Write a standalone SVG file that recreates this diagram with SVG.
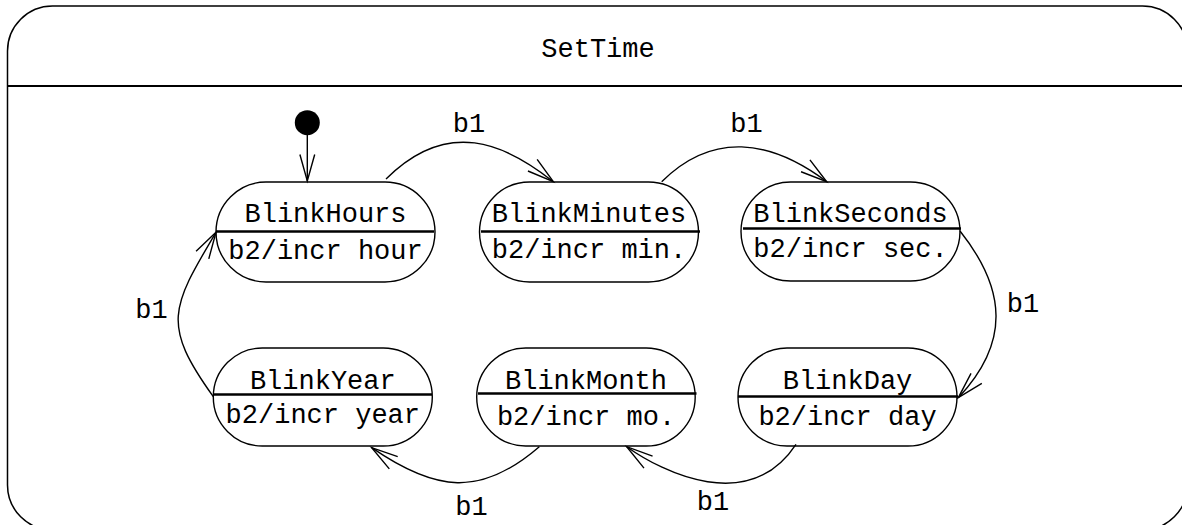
<svg xmlns="http://www.w3.org/2000/svg" width="1182" height="525" viewBox="0 0 1182 525">
  <style>
    text { font-family: "Liberation Mono", "Courier New", monospace; font-size: 27px; fill: #000; text-anchor: middle; }
    .frame { fill: #fff; stroke: #000; stroke-width: 1.5; }
    .header { stroke: #000; stroke-width: 2.2; }
    .state { fill: #fff; stroke: #000; stroke-width: 1.4; }
    .divider { stroke: #000; stroke-width: 2.5; }
    .edge { fill: none; stroke: #000; stroke-width: 1.4; marker-end: url(#open); }
  </style>
  <defs>
    <marker id="open" markerUnits="userSpaceOnUse" viewBox="-30 -10 32 20" markerWidth="32" markerHeight="20" refX="0" refY="0" orient="auto" overflow="visible">
      <path d="M-26.5,-7.4 L0,0 L-26.5,7.4" fill="none" stroke="#000" stroke-width="1.4"/>
    </marker>
  </defs>

  <!-- composite state -->
  <g id="SetTime">
    <rect class="frame" x="7.5" y="6" width="1180" height="524" rx="45" ry="45"/>
    <line class="header" x1="7.5" y1="86" x2="1187.5" y2="86"/>
    <text x="598" y="57">SetTime</text>
  </g>

  <!-- initial pseudostate -->
  <g id="initial">
    <circle cx="307.3" cy="122.7" r="12.5" fill="#000"/>
  </g>

  <g id="BlinkHours">
    <rect class="state" x="216" y="182" width="219" height="100" rx="50" ry="50"/>
    <line class="divider" x1="216" y1="231.5" x2="434" y2="231.5"/>
    <text x="325.5" y="222">BlinkHours</text>
    <text x="325.5" y="259">b2/incr hour</text>
  </g>

  <g id="BlinkMinutes">
    <rect class="state" x="479.5" y="182" width="219" height="100" rx="50" ry="50"/>
    <line class="divider" x1="481" y1="231.5" x2="700" y2="231.5"/>
    <text x="589" y="222">BlinkMinutes</text>
    <text x="589" y="258">b2/incr min.</text>
  </g>

  <g id="BlinkSeconds">
    <rect class="state" x="741" y="182" width="219" height="99" rx="49.5" ry="49.5"/>
    <line class="divider" x1="743" y1="228.5" x2="961" y2="228.5"/>
    <text x="850.5" y="222">BlinkSeconds</text>
    <text x="850.5" y="257">b2/incr sec.</text>
  </g>

  <g id="BlinkYear">
    <rect class="state" x="213.3" y="348" width="219" height="98" rx="49" ry="49"/>
    <line class="divider" x1="213.3" y1="394.5" x2="432" y2="394.5"/>
    <text x="322.8" y="389">BlinkYear</text>
    <text x="322.8" y="423">b2/incr year</text>
  </g>

  <g id="BlinkMonth">
    <rect class="state" x="476.7" y="348" width="218.5" height="98" rx="49" ry="49"/>
    <line class="divider" x1="478" y1="393.5" x2="696.5" y2="393.5"/>
    <text x="586" y="388.5">BlinkMonth</text>
    <text x="586" y="425">b2/incr mo.</text>
  </g>

  <g id="BlinkDay">
    <rect class="state" x="738" y="348" width="219" height="98" rx="49" ry="49"/>
    <line class="divider" x1="738" y1="396.5" x2="958" y2="396.5"/>
    <text x="847.5" y="388.5">BlinkDay</text>
    <text x="847.5" y="425">b2/incr day</text>
  </g>

  <!-- transitions -->
  <g id="connectors">
    <path class="edge" d="M307.3,135 L307.3,181"/>
    <path class="edge" d="M386,179 C447.5,117.5 505.1,143.4 553.3,181.7"/>
    <path class="edge" d="M661.7,181.7 C712,131.7 769.6,138.9 826.7,181.7"/>
    <path class="edge" d="M960,231 C1006.7,289.8 1009.9,342.7 958.3,397.7"/>
    <path class="edge" d="M796,444.3 C749.3,514.9 663.2,472.7 626.7,446.7"/>
    <path class="edge" d="M539.3,446.7 C480.6,497.4 435.6,491.8 371.7,447.7"/>
    <path class="edge" d="M213.3,396.7 C161.8,324.8 170.5,308.6 216,232.3"/>
    <text x="469" y="132">b1</text>
    <text x="746.5" y="132">b1</text>
    <text x="1023" y="312">b1</text>
    <text x="713" y="510">b1</text>
    <text x="471.5" y="515">b1</text>
    <text x="151.5" y="318">b1</text>
  </g>
</svg>
